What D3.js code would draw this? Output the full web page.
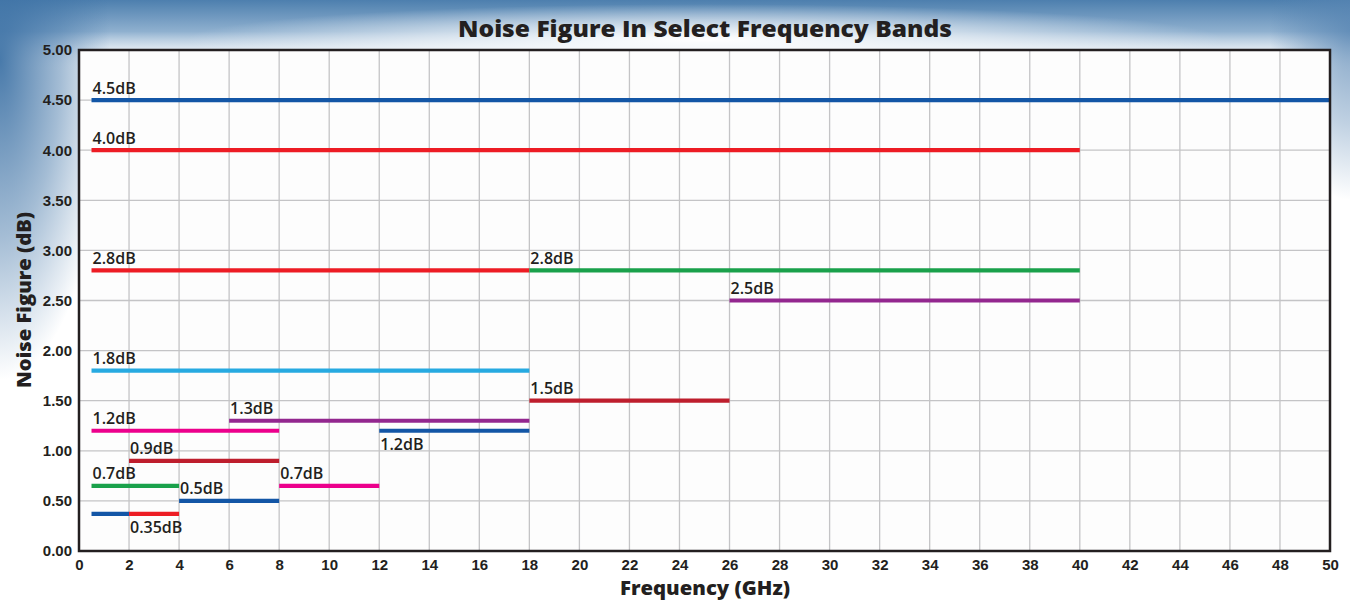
<!DOCTYPE html>
<html>
<head>
<meta charset="utf-8">
<script src="https://cdn.jsdelivr.net/npm/d3@7"></script>
<style>
  html, body { margin: 0; padding: 0; background: #fff; }
  svg { display: block; font-family: "Open Sans", "DejaVu Sans", sans-serif; }
  .grid line { stroke: #c4c4c6; stroke-width: 1.3; }
  .tick-label { font-size: 15px; font-weight: 700; fill: #231f20; }
  .band-label { font-size: 16px; font-weight: 600; fill: #231f20; }
  .title { font-size: 23px; font-weight: 800; fill: #231f20; }
  .axis-title { font-size: 20px; font-weight: 800; fill: #231f20; }
</style>
</head>
<body>
<svg width="1350" height="600"></svg>
<script>
'use strict';

// axis ticks
const xTicks = d3.range(0, 51, 2);
const yTicks = [0, 0.5, 1, 1.5, 2, 2.5, 3, 3.5, 4, 4.5, 5];

// frequency bands (GHz) and noise figure (dB)
const bandLabels = ["4.5dB", "4.0dB", "2.8dB", "2.8dB", "2.5dB", "1.8dB", "1.5dB", "1.3dB",
  "1.2dB", "1.2dB", "0.9dB", "0.7dB", "0.7dB", "0.5dB", "", "0.35dB"];
const bandStart = [0.5, 0.5, 0.5, 18, 26, 0.5, 18, 6, 0.5, 12, 2, 0.5, 8, 4, 0.5, 2];
const bandEnd = [50, 40, 18, 40, 40, 18, 26, 18, 8, 18, 8, 4, 12, 8, 2, 4];
const noiseFigure = [4.5, 4.0, 2.8, 2.8, 2.5, 1.8, 1.5, 1.3, 1.2, 1.2, 0.9, 0.65, 0.65, 0.5, 0.37, 0.37];
const bandColor = ["#1356a6", "#ed1c24", "#ed1c24", "#1aa14b", "#93278f", "#27aae1", "#be1e2d", "#93278f",
  "#ec008c", "#1356a6", "#be1e2d", "#1aa14b", "#ec008c", "#1356a6", "#1356a6", "#ed1c24"];
const labelBelow = [false, false, false, false, false, false, false, false,
  false, true, false, false, false, false, false, true];

const W = 1350, H = 600;
const margin = {top: 50, right: 20, bottom: 49, left: 79};

const svg = d3.select('svg');

/** Background: sky at the top and the sides, fading into white */
const defs = svg.append('defs');

const topGrad = defs.append('linearGradient').attr('id', 'topSky')
  .attr('x1', 0).attr('y1', 0).attr('x2', 0).attr('y2', 1);
topGrad.append('stop').attr('offset', 0).attr('stop-color', '#4d7fae');
topGrad.append('stop').attr('offset', 0.45).attr('stop-color', '#8fb0cf');
topGrad.append('stop').attr('offset', 1).attr('stop-color', '#ffffff').attr('stop-opacity', 0);

function cornerGlow(id, color, op) {
  const g = defs.append('radialGradient').attr('id', id);
  g.append('stop').attr('offset', 0).attr('stop-color', color).attr('stop-opacity', op);
  g.append('stop').attr('offset', 0.55).attr('stop-color', color).attr('stop-opacity', op * 0.5);
  g.append('stop').attr('offset', 1).attr('stop-color', color).attr('stop-opacity', 0);
}
cornerGlow('leftSky', '#3f73a6', 0.95);
cornerGlow('rightSky', '#5684b2', 0.75);
cornerGlow('titleGlow', '#ffffff', 1);

svg.append('rect').attr('width', W).attr('height', H).attr('fill', '#fff');
svg.append('rect').attr('width', W).attr('height', 70).attr('fill', 'url(#topSky)');
svg.append('ellipse').attr('cx', 0).attr('cy', 60).attr('rx', 110).attr('ry', 320).attr('fill', 'url(#leftSky)');
svg.append('ellipse').attr('cx', W).attr('cy', 30).attr('rx', 80).attr('ry', 170).attr('fill', 'url(#rightSky)');
svg.append('ellipse').attr('cx', 705).attr('cy', 40).attr('rx', 520).attr('ry', 36).attr('fill', 'url(#titleGlow)');

/** Scales */
const x = d3.scaleLinear().domain([0, 50]).range([margin.left, W - margin.right]);
const y = d3.scaleLinear().domain([0, 5]).range([H - margin.bottom, margin.top]);

// plot area
svg.append('rect')
  .attr('x', x(0)).attr('y', y(5))
  .attr('width', x(50) - x(0)).attr('height', y(0) - y(5))
  .attr('fill', '#fdfdfd');

/** Grid */
const grid = svg.append('g').classed('grid', true);
grid.selectAll('line.v').data(xTicks.slice(1, -1)).enter().append('line')
  .attr('class', 'v')
  .attr('x1', d => x(d)).attr('x2', d => x(d))
  .attr('y1', y(5)).attr('y2', y(0));
grid.selectAll('line.h').data(yTicks.slice(1, -1)).enter().append('line')
  .attr('class', 'h')
  .attr('x1', x(0)).attr('x2', x(50))
  .attr('y1', d => y(d)).attr('y2', d => y(d));

/** Bands */
const bands = d3.range(bandLabels.length);
svg.append('g').selectAll('line').data(bands).enter().append('line')
  .attr('x1', i => x(bandStart[i])).attr('x2', i => x(bandEnd[i]))
  .attr('y1', i => y(noiseFigure[i])).attr('y2', i => y(noiseFigure[i]))
  .attr('stroke', i => bandColor[i])
  .attr('stroke-width', 4.2);

svg.append('g').selectAll('text').data(bands.filter(i => bandLabels[i])).enter().append('text')
  .attr('class', 'band-label')
  .attr('x', i => x(bandStart[i]) + 1)
  .attr('y', i => y(noiseFigure[i]) + (labelBelow[i] ? 19 : -6.5))
  .text(i => bandLabels[i]);

/** Frame */
svg.append('rect')
  .attr('x', x(0)).attr('y', y(5))
  .attr('width', x(50) - x(0)).attr('height', y(0) - y(5))
  .attr('fill', 'none').attr('stroke', '#231f20').attr('stroke-width', 2.5);

/** Axes */
const xAxis = d3.axisBottom(x).tickValues(xTicks).tickSize(0).tickPadding(8);
const gx = svg.append('g').attr('transform', `translate(0,${y(0)})`).call(xAxis);
gx.select('.domain').remove();
gx.selectAll('text').attr('class', 'tick-label').attr('fill', null).attr('font-family', null).attr('font-size', null);

const yAxis = d3.axisLeft(y).tickValues(yTicks).tickFormat(d3.format('.2f')).tickSize(0).tickPadding(7);
const gy = svg.append('g').attr('transform', `translate(${x(0)},0)`).call(yAxis);
gy.select('.domain').remove();
gy.selectAll('text').attr('class', 'tick-label').attr('fill', null).attr('font-family', null).attr('font-size', null);

/** Titles */
svg.append('text').attr('class', 'title')
  .attr('x', 705).attr('y', 37).attr('text-anchor', 'middle')
  .attr('textLength', 494).attr('lengthAdjust', 'spacingAndGlyphs')
  .text('Noise Figure In Select Frequency Bands');

svg.append('text').attr('class', 'axis-title')
  .attr('x', 705).attr('y', 595).attr('text-anchor', 'middle')
  .attr('textLength', 170).attr('lengthAdjust', 'spacingAndGlyphs')
  .text('Frequency (GHz)');

svg.append('text').attr('class', 'axis-title')
  .attr('transform', 'translate(31,300) rotate(-90)')
  .attr('text-anchor', 'middle')
  .attr('textLength', 176).attr('lengthAdjust', 'spacingAndGlyphs')
  .text('Noise Figure (dB)');
</script>
</body>
</html>
